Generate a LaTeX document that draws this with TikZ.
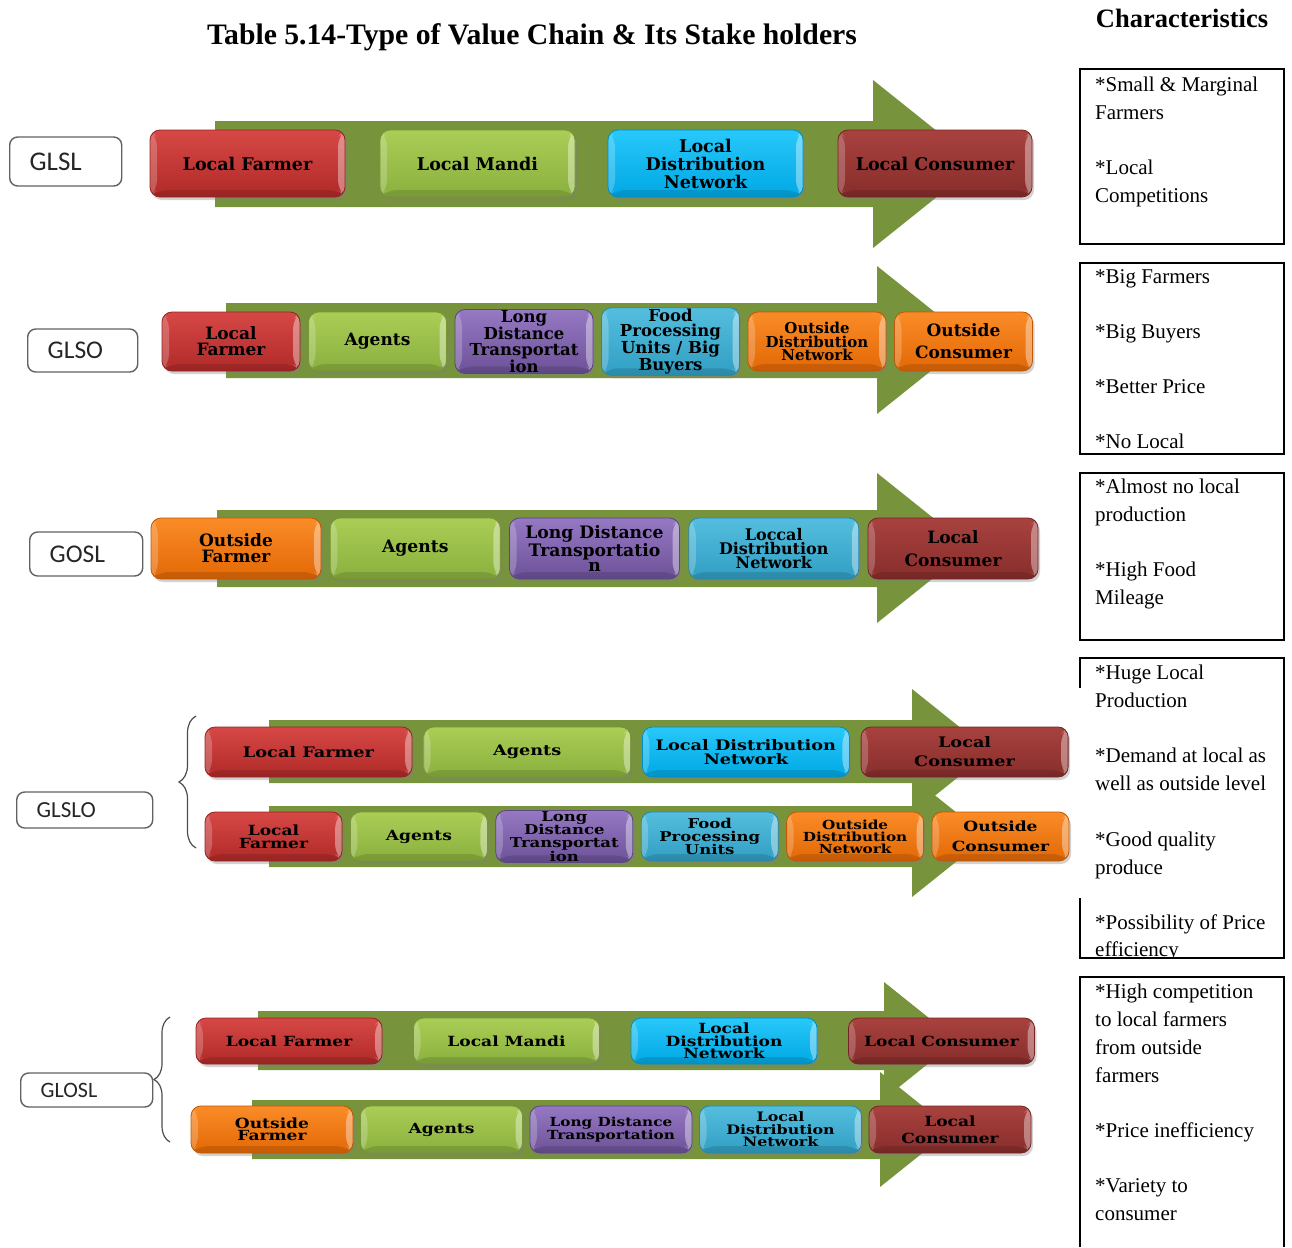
\documentclass[tikz,border=0pt]{standalone}
\usepackage{fontspec}
\setmainfont{Liberation Serif}
\newfontfamily\nodeserif{DejaVu Serif}
\newfontfamily\nodewide{DejaVu Serif}[FakeStretch=1.22]
\newfontfamily\labelsans{Carlito}
\usetikzlibrary{shadows,decorations.pathreplacing}
\definecolor{arrowgreen}{RGB}{119,147,60}
\definecolor{redT}{RGB}{214,72,70}\definecolor{redB}{RGB}{176,42,40}
\definecolor{dredT}{RGB}{168,66,63}\definecolor{dredB}{RGB}{135,45,43}
\definecolor{grnT}{RGB}{170,205,85}\definecolor{grnB}{RGB}{138,176,62}
\definecolor{cyaT}{RGB}{40,200,250}\definecolor{cyaB}{RGB}{0,168,228}
\definecolor{bluT}{RGB}{85,190,222}\definecolor{bluB}{RGB}{48,158,195}
\definecolor{purT}{RGB}{150,120,195}\definecolor{purB}{RGB}{108,82,152}
\definecolor{orgT}{RGB}{250,140,40}\definecolor{orgB}{RGB}{226,104,5}
\newcommand\fsz[2]{\nodeserif\bfseries\fontsize{#1}{#2}\selectfont}
\newcommand\fszw[2]{\nodewide\bfseries\fontsize{#1}{#2}\selectfont}
\newcommand\vcarrow[6]{%
  \fill[arrowgreen] (#1,#2) -- (#4,#2) -- (#4,#5) -- ({#4+1.25*(#6-#5)/2},{(#5+#6)/2}) -- (#4,#6) -- (#4,#3) -- (#1,#3) -- cycle;}
\tikzset{
  vc/.style={rounded corners=10pt, align=center, inner sep=1pt, text=black,
    line width=0.8pt,
    drop shadow={shadow xshift=2pt, shadow yshift=-3pt, opacity=.35},
    path picture={
      \fill[white,opacity=.22] (path picture bounding box.north west) -- ([shift={(7pt,-7pt)}]path picture bounding box.north west) -- ([shift={(7pt,7pt)}]path picture bounding box.south west) -- (path picture bounding box.south west) -- cycle;
      \fill[white,opacity=.38] (path picture bounding box.north east) -- ([shift={(-7pt,-7pt)}]path picture bounding box.north east) -- ([shift={(-7pt,7pt)}]path picture bounding box.south east) -- (path picture bounding box.south east) -- cycle;
      \fill[black,opacity=.12] (path picture bounding box.south west) -- ([shift={(7pt,7pt)}]path picture bounding box.south west) -- ([shift={(-7pt,7pt)}]path picture bounding box.south east) -- (path picture bounding box.south east) -- cycle;
    }},
  cred/.style={top color=redT, bottom color=redB, draw=redB!85!black},
  cdred/.style={top color=dredT, bottom color=dredB, draw=dredB!85!black},
  cgrn/.style={top color=grnT, bottom color=grnB, draw=grnB!85!black},
  ccya/.style={top color=cyaT, bottom color=cyaB, draw=cyaB!85!black},
  cblu/.style={top color=bluT, bottom color=bluB, draw=bluB!85!black},
  cpur/.style={top color=purT, bottom color=purB, draw=purB!85!black},
  corg/.style={top color=orgT, bottom color=orgB, draw=orgB!85!black},
  lbl/.style={draw=black!62, line width=1.4pt, rounded corners=8pt, fill=white,
    align=left, inner xsep=20pt, inner ysep=0pt, anchor=west, text=black!85},
  ch/.style={anchor=base west, inner sep=0pt, font=\fontsize{21}{22}\selectfont},
  chframe/.style={draw=black, line width=2pt},
  bracestyle/.style={draw=black!70, line width=1.2pt, decorate}
}
\begin{document}
\begin{tikzpicture}[x=1pt,y=-1pt]
\fill[white] (0,0) rectangle (1292,1247);
\useasboundingbox (0,0) rectangle (1292,1247);

% titles
\node[anchor=base, inner sep=0pt, font=\bfseries\fontsize{29.7}{30}\selectfont] (title) at (532,45) {Table 5.14-Type of Value Chain \& Its Stake holders};
\node[anchor=base, inner sep=0pt, font=\bfseries\fontsize{26.5}{28}\selectfont] (chhead) at (1182,28) {Characteristics};

% arrows
\vcarrow{215}{121}{207}{873}{80}{248}
\vcarrow{226}{303}{378}{877}{266}{414}
\vcarrow{217}{510}{587}{877}{473}{623}
\vcarrow{269}{720}{783}{912}{689}{814}
\vcarrow{269}{806}{867}{912}{777}{897}
\vcarrow{258}{1011}{1070}{884}{982}{1099}
\vcarrow{252}{1100}{1159}{880}{1072}{1187}

% row 1 GLSL
\node[vc,cred,minimum width=195pt,minimum height=67pt,font=\fsz{17.5}{18}] (r1a) at (247.5,163.5) {Local Farmer};
\node[vc,cgrn,minimum width=195pt,minimum height=67pt,font=\fsz{17.5}{18}] (r1b) at (477.5,163.5) {Local Mandi};
\node[vc,ccya,minimum width=195pt,minimum height=67pt,font=\fsz{17.5}{18}] (r1c) at (705.5,163.5) {Local\\Distribution\\Network};
\node[vc,cdred,minimum width=194pt,minimum height=67pt,font=\fsz{17.5}{18}] (r1d) at (935,163.5) {Local Consumer};

% row 2 GLSO
\node[vc,cred,minimum width=138pt,minimum height=59pt,font=\fsz{17}{16}] (r2a) at (231,341.5) {Local\\Farmer};
\node[vc,cgrn,minimum width=138pt,minimum height=59pt,font=\fsz{17}{16}] (r2b) at (377.5,341.5) {Agents};
\node[vc,cpur,minimum width=138pt,minimum height=59pt,font=\fsz{16.5}{15.5}] (r2c) at (524,341.5) {Long\\Distance\\Transportat\\ion};
\node[vc,cblu,minimum width=138pt,minimum height=59pt,font=\fsz{16.5}{15.5}] (r2d) at (670.5,341.5) {Food\\Processing\\Units / Big\\Buyers};
\node[vc,corg,minimum width=138pt,minimum height=59pt,font=\fsz{15}{13.5}] (r2e) at (817,341.5) {Outside\\Distribution\\Network};
\node[vc,corg,minimum width=138pt,minimum height=59pt,font=\fsz{17}{22}] (r2f) at (963.5,341.5) {Outside\\Consumer};

% row 3 GOSL
\node[vc,corg,minimum width=170pt,minimum height=61pt,font=\fsz{17}{16}] (r3a) at (236,548.5) {Outside\\Farmer};
\node[vc,cgrn,minimum width=170pt,minimum height=61pt,font=\fsz{17.2}{16}] (r3b) at (415.25,548.5) {Agents};
\node[vc,cpur,minimum width=170pt,minimum height=61pt,font=\fsz{17.2}{15.5}] (r3c) at (594.5,548.5) {Long Distance\\Transportatio\\n};
\node[vc,cblu,minimum width=170pt,minimum height=61pt,font=\fsz{16}{14}] (r3d) at (773.75,548.5) {Loccal\\Distribution\\Network};
\node[vc,cdred,minimum width=170pt,minimum height=61pt,font=\fsz{17}{23}] (r3e) at (953,548.5) {Local\\Consumer};

% row 4 GLSLO top
\node[vc,cred,minimum width=207pt,minimum height=50pt,font=\fszw{14.5}{14}] (r4a) at (308.5,752) {Local Farmer};
\node[vc,cgrn,minimum width=207pt,minimum height=50pt,font=\fszw{14.5}{14}] (r4b) at (527.2,752) {Agents};
\node[vc,ccya,minimum width=207pt,minimum height=50pt,font=\fszw{14.5}{14}] (r4c) at (745.9,752) {Local Distribution\\Network};
\node[vc,cdred,minimum width=207pt,minimum height=50pt,font=\fszw{14.5}{19}] (r4d) at (964.6,752) {Local\\Consumer};

% row 4 GLSLO bottom
\node[vc,cred,minimum width=137pt,minimum height=49pt,font=\fszw{14}{13.3}] (r4e) at (273.5,836.5) {Local\\Farmer};
\node[vc,cgrn,minimum width=137pt,minimum height=49pt,font=\fszw{14}{13.3}] (r4f) at (418.9,836.5) {Agents};
\node[vc,cpur,minimum width=137pt,minimum height=49pt,font=\fszw{13.5}{13.3}] (r4g) at (564.3,836.5) {Long\\Distance\\Transportat\\ion};
\node[vc,cblu,minimum width=137pt,minimum height=49pt,font=\fszw{13.5}{13.3}] (r4h) at (709.7,836.5) {Food\\Processing\\Units};
\node[vc,corg,minimum width=137pt,minimum height=49pt,font=\fszw{12.5}{12}] (r4i) at (855.1,836.5) {Outside\\Distribution\\Network};
\node[vc,corg,minimum width=137pt,minimum height=49pt,font=\fszw{14}{20}] (r4j) at (1000.5,836.5) {Outside\\Consumer};

% row 5 GLOSL top
\node[vc,cred,minimum width=186pt,minimum height=46pt,font=\fszw{14}{12.5}] (r5a) at (289,1041) {Local Farmer};
\node[vc,cgrn,minimum width=186pt,minimum height=46pt,font=\fszw{14}{12.5}] (r5b) at (506.5,1041) {Local Mandi};
\node[vc,ccya,minimum width=186pt,minimum height=46pt,font=\fszw{14}{12.5}] (r5c) at (724,1041) {Local\\Distribution\\Network};
\node[vc,cdred,minimum width=186pt,minimum height=46pt,font=\fszw{14}{12.5}] (r5d) at (941.5,1041) {Local Consumer};

% row 5 GLOSL bottom
\node[vc,corg,minimum width=162pt,minimum height=47pt,font=\fszw{14}{12.5}] (r5e) at (272,1129.5) {Outside\\Farmer};
\node[vc,cgrn,minimum width=162pt,minimum height=47pt,font=\fszw{14}{12.5}] (r5f) at (441.5,1129.5) {Agents};
\node[vc,cpur,minimum width=162pt,minimum height=47pt,font=\fszw{12.5}{12}] (r5g) at (611,1129.5) {Long Distance\\Transportation};
\node[vc,cblu,minimum width=162pt,minimum height=47pt,font=\fszw{13}{12.5}] (r5h) at (780.5,1129.5) {Local\\Distribution\\Network};
\node[vc,cdred,minimum width=162pt,minimum height=47pt,font=\fszw{14}{17}] (r5i) at (950,1129.5) {Local\\Consumer};

% labels
\node[lbl, text width=72pt, minimum height=49pt, font=\labelsans\fontsize{27}{27}\selectfont] (glsl) at (9,161.5) {GLSL};
\node[lbl, text width=70pt, minimum height=43pt, font=\labelsans\fontsize{25.5}{25}\selectfont] (glso) at (27,350.5) {GLSO};
\node[lbl, text width=73pt, minimum height=44pt, font=\labelsans\fontsize{25.5}{25}\selectfont] (gosl) at (29,554) {GOSL};
\node[lbl, text width=96pt, minimum height=36pt, font=\labelsans\fontsize{23}{23}\selectfont] (glslo) at (16,810) {GLSLO};
\node[lbl, text width=92pt, minimum height=34pt, font=\labelsans\fontsize{22}{22}\selectfont] (glosl) at (20,1090) {GLOSL};

% braces
\coordinate (b1top) at (196,716);
\coordinate (b1bot) at (196,848);
\draw[bracestyle, decoration={brace, amplitude=17pt}] (b1bot) -- (b1top);
\coordinate (b2top) at (170,1017);
\coordinate (b2bot) at (170,1142);
\draw[bracestyle, decoration={brace, amplitude=16pt}] (b2bot) -- (b2top);

% characteristics frames
\draw[chframe] (1080,69) rectangle (1284,244);
\draw[chframe] (1080,263) rectangle (1284,454);
\draw[chframe] (1080,473) rectangle (1284,640);
\draw[chframe] (1080,688) -- (1080,658) -- (1284,658) -- (1284,958) -- (1080,958) -- (1080,898);
\draw[chframe] (1080,1247) -- (1080,977) -- (1284,977) -- (1284,1247);

% characteristics texts
\node[ch] (c1a) at (1095,91) {*Small \& Marginal};
\node[ch] (c1b) at (1095,119) {Farmers};
\node[ch] (c1c) at (1095,174) {*Local};
\node[ch] (c1d) at (1095,202) {Competitions};

\node[ch] (c2a) at (1095,283) {*Big Farmers};
\node[ch] (c2b) at (1095,338) {*Big Buyers};
\node[ch] (c2c) at (1095,393) {*Better Price};
\node[ch] (c2d) at (1095,448) {*No Local};

\node[ch] (c3a) at (1095,493) {*Almost no local};
\node[ch] (c3b) at (1095,521) {production};
\node[ch] (c3c) at (1095,576) {*High Food};
\node[ch] (c3d) at (1095,604) {Mileage};

\begin{scope}
\clip (1081,659) rectangle (1283,957);
\node[ch] (c4a) at (1095,679) {*Huge Local};
\node[ch] (c4b) at (1095,707) {Production};
\node[ch] (c4c) at (1095,762) {*Demand at local as};
\node[ch] (c4d) at (1095,790) {well as outside level};
\node[ch] (c4e) at (1095,846) {*Good quality};
\node[ch] (c4f) at (1095,874) {produce};
\node[ch] (c4g) at (1095,929) {*Possibility of Price};
\node[ch] (c4h) at (1095,956) {efficiency};
\end{scope}

\node[ch] (c5a) at (1095,998) {*High competition};
\node[ch] (c5b) at (1095,1026) {to local farmers};
\node[ch] (c5c) at (1095,1054) {from outside};
\node[ch] (c5d) at (1095,1082) {farmers};
\node[ch] (c5e) at (1095,1137) {*Price inefficiency};
\node[ch] (c5f) at (1095,1192) {*Variety to};
\node[ch] (c5g) at (1095,1220) {consumer};
\end{tikzpicture}
\end{document}
